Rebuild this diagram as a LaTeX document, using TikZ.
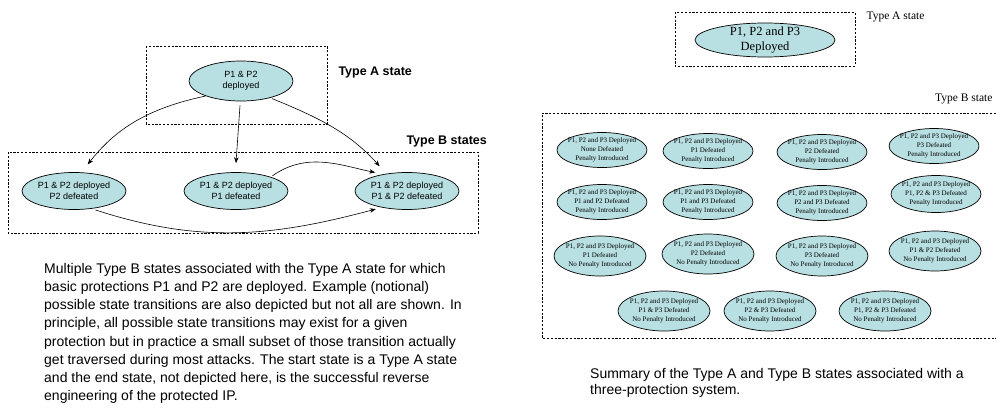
\documentclass[tikz,border=0pt]{standalone}
\usepackage{fontspec}
\setmainfont{Liberation Serif}
\setsansfont{Liberation Sans}
\usetikzlibrary{shapes.geometric, arrows.meta}
\definecolor{statefill}{RGB}{184,223,226}

\begin{document}
\begin{tikzpicture}[x=1pt, y=-1pt,
    state/.style={ellipse, draw=black, line width=0.7pt, fill=statefill, align=center, inner sep=0pt},
    pairstate/.style={state, font=\sffamily\fontsize{9}{11.5}\selectfont, minimum width=104, minimum height=37, inner xsep=-6pt},
    tristate/.style={state, font=\fontsize{12.5}{15}\selectfont, minimum width=140, minimum height=34, inner ysep=-4pt},
    minstate/.style={state, font=\fontsize{7}{9}\selectfont, minimum width=90, minimum height=35, inner xsep=-13pt, inner ysep=-4pt},
    tallstate/.style={minstate, minimum width=92, minimum height=40},
    frame/.style={draw=black, line width=0.7pt, dash pattern=on 2.2pt off 1.6pt},
    trans/.style={-{Stealth[length=6pt, width=4.5pt]}, line width=0.6pt},
    sidelabel/.style={font=\sffamily\bfseries\fontsize{12.5}{15}\selectfont},
    caption/.style={anchor=north west, align=left, inner sep=0pt, font=\sffamily\fontsize{14}{18.2}\selectfont}
]
\useasboundingbox (0,0) rectangle (996,407);

% Left: two-protection system
\draw[frame] (146,46) rectangle (327,124);
\draw[frame] (8,152) rectangle (478,233);
\node[sidelabel, anchor=west] (lblA) at (335,72) {Type A state};
\node[sidelabel, anchor=west] (lblB) at (403,141) {Type B states};

\node[pairstate, minimum height=40] (typeA) at (241,81) {P1 \& P2\\deployed};
\node[pairstate] (defP2) at (74,191) {P1 \& P2 deployed\\P2 defeated};
\node[pairstate] (defP1) at (236,191) {P1 \& P2 deployed\\P1 defeated};
\node[pairstate] (defBoth) at (407,191) {P1 \& P2 deployed\\P1 \& P2 defeated};

% Transitions (notional)
\draw[trans, shorten >=10pt] (typeA.203) to[out=192, in=52] (defP2.68);
\draw[trans, shorten <=4pt, shorten >=9pt] (typeA.268) -- (defP1.92);
\draw[trans, shorten <=2pt, shorten >=10pt] (typeA.-30) to[out=-22, in=132] (defBoth.140);
\draw[trans, shorten <=2pt, shorten >=8pt] (defP1.22) to[out=35, in=168] (defBoth.145);
\draw[trans, shorten <=4pt, shorten >=6pt] (defP2.-45) to[out=-18, in=195] (defBoth.213);

\node[caption] (capLeft) at (44,263) {Multiple Type B states associated with the Type A state for which\\basic protections P1 and P2 are deployed. Example (notional)\\possible state transitions are also depicted but not all are shown. In\\principle, all possible state transitions may exist for a given\\protection but in practice a small subset of those transition actually\\get traversed during most attacks. The start state is a Type A state\\and the end state, not depicted here, is the successful reverse\\engineering of the protected IP.};

% Right: three-protection system
\draw[frame] (675,12) rectangle (855,66);
\node[anchor=west, font=\fontsize{11.5}{13}\selectfont] (triLblA) at (863,17) {Type A state};
\node[tristate] (triDeployed) at (765,40) {P1, P2 and P3\\Deployed};

\draw[frame] (996,113) -- (542,113) -- (542,338) -- (996,338);
\node[anchor=east, font=\fontsize{11.5}{13}\selectfont] (triLblB) at (996,99) {Type B state};

% Type B states, penalty introduced
\node[minstate] (penNone) at (602,150) {P1, P2 and P3 Deployed\\None Defeated\\Penalty Introduced};
\node[minstate] (penP1) at (708,151) {P1, P2 and P3 Deployed\\P1 Defeated\\Penalty Introduced};
\node[minstate] (penP2) at (822,152) {P1, P2 and P3 Deployed\\P2 Defeated\\Penalty Introduced};
\node[minstate] (penP3) at (934,146) {P1, P2 and P3 Deployed\\P3 Defeated\\Penalty Introduced};
\node[minstate] (penP12) at (602,202) {P1, P2 and P3 Deployed\\P1 and P2 Defeated\\Penalty Introduced};
\node[minstate] (penP13) at (708,202) {P1, P2 and P3 Deployed\\P1 and P3 Defeated\\Penalty Introduced};
\node[minstate] (penP23) at (822,203) {P1, P2 and P3 Deployed\\P2 and P3 Defeated\\Penalty Introduced};
\node[minstate, minimum height=37] (penAll) at (936,194) {P1, P2 and P3 Deployed\\P1, P2 \& P3 Defeated\\Penalty Introduced};

% Type B states, no penalty introduced
\node[tallstate] (noP1) at (600,256) {P1, P2 and P3 Deployed\\P1 Defeated\\No Penalty Introduced};
\node[tallstate] (noP2) at (708,254) {P1, P2 and P3 Deployed\\P2 Defeated\\No Penalty Introduced};
\node[tallstate] (noP3) at (822,256) {P1, P2 and P3 Deployed\\P3 Defeated\\No Penalty Introduced};
\node[tallstate] (noP12) at (935,251) {P1, P2 and P3 Deployed\\P1 \& P2 Defeated\\No Penalty Introduced};
\node[tallstate] (noP13) at (664,311) {P1, P2 and P3 Deployed\\P1 \& P3 Defeated\\No Penalty Introduced};
\node[tallstate] (noP23) at (770,311) {P1, P2 and P3 Deployed\\P2 \& P3 Defeated\\No Penalty Introduced};
\node[tallstate] (noAll) at (885,311) {P1, P2 and P3 Deployed\\P1, P2 \& P3 Defeated\\No Penalty Introduced};

\node[caption, font=\sffamily\fontsize{14}{16}\selectfont] (capRight) at (590,368) {Summary of the Type A and Type B states associated with a\\three-protection system.};
\end{tikzpicture}
\end{document}
